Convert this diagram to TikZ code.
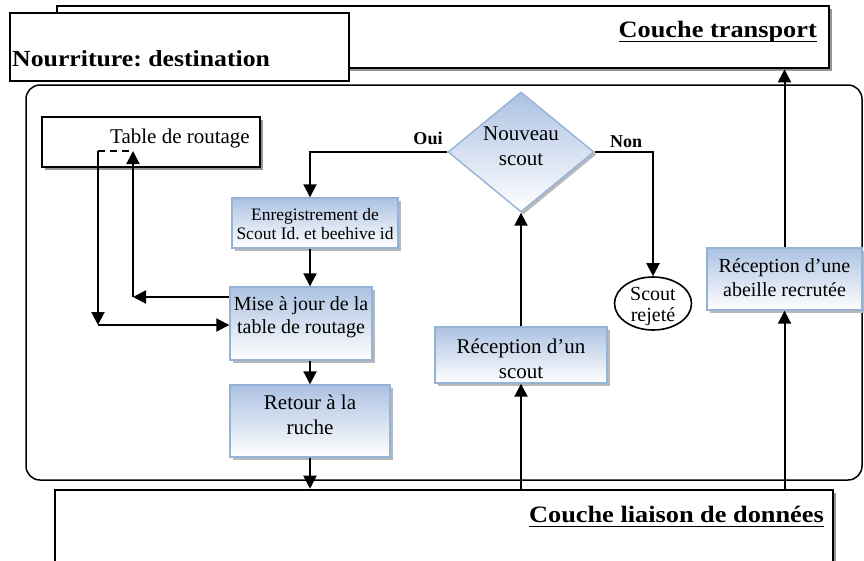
\documentclass[tikz,border=0pt]{standalone}
\usepackage{fontspec}
\setmainfont{Liberation Serif}
\newfontfamily\headfont{Liberation Serif}[FakeStretch=1.12]
\usetikzlibrary{arrows.meta,shapes.geometric,shadows,calc}
\definecolor{boxtop}{RGB}{172,194,226}
\definecolor{boxedge}{RGB}{149,179,215}
\definecolor{shadowgray}{RGB}{150,150,150}
% thick underline for the layer titles
\newcommand\headul[1]{\setbox0\hbox{#1}\rlap{\rule[-5pt]{\wd0}{1.5pt}}\box0}
\frenchspacing

\begin{document}
\begin{tikzpicture}[x=1pt,y=-1pt,
  arr/.style={line width=2pt,-{Triangle[length=13pt,width=13pt]}},
  plain/.style={line width=2pt},
  layerbox/.style={draw,line width=2.6pt,fill=white,inner sep=0pt,
    drop shadow={shadow xshift=2.5pt,shadow yshift=-2.5pt,fill=shadowgray,opacity=1}},
  bluebox/.style={draw=boxedge,line width=1.4pt,top color=boxtop,bottom color=white,inner sep=0pt,
    drop shadow={shadow xshift=2.5pt,shadow yshift=-2.5pt,fill=black!28,opacity=1}},
  txt/.style={inner sep=0pt,align=center},
  headtxt/.style={inner sep=0pt,font=\headfont\bfseries\fontsize{23.5}{28}\selectfont},
  lbl/.style={inner sep=0pt,font=\bfseries\fontsize{18}{20}\selectfont},
]
\useasboundingbox (0,0) rectangle (864,560);

% container of the routing process
\node[draw,line width=1.5pt,rounded corners=14pt,minimum width=836pt,minimum height=395pt,inner sep=0pt]
  (proc) at (444,282.5) {};

% protocol layers
\node[layerbox,minimum width=772pt,minimum height=62pt] (trans) at (443,37) {};
\node[draw,line width=1.2pt,fill=white,minimum width=339pt,minimum height=68pt,inner sep=0pt]
  (nour) at (179.5,47) {};
\node[layerbox,minimum width=778pt,minimum height=85pt] (link) at (444,532.5) {};

\node[headtxt,anchor=base east] (transtxt) at (817,37) {\headul{Couche transport}};
\node[headtxt,anchor=base west,font=\headfont\bfseries\fontsize{23}{28}\selectfont]
  (nourtxt) at (12,66) {Nourriture: destination};
\node[headtxt,anchor=base east] (linktxt) at (824,522) {\headul{Couche liaison de données}};

% routing table
\node[draw,line width=2.2pt,fill=white,minimum width=218pt,minimum height=50pt,inner sep=0pt,
  drop shadow={shadow xshift=2.5pt,shadow yshift=-2.5pt,fill=shadowgray,opacity=1}]
  (table) at (151,142) {};
\node[txt,anchor=base east,font=\fontsize{21}{24}\selectfont] (tabletxt) at (250,143) {Table de routage};

% process steps
\node[bluebox,minimum width=166pt,minimum height=50pt] (enr) at (315,223) {};
\node[txt,font=\fontsize{17.5}{19}\selectfont] (enrtxt) at (315,224) {Enregistrement de\\Scout Id. et beehive id};

\node[bluebox,minimum width=142pt,minimum height=73pt] (mise) at (301,323.5) {};
\node[txt,font=\fontsize{20}{23}\selectfont] (misetxt) at (301,317) {Mise à jour de la\\table de routage};

\node[bluebox,minimum width=160pt,minimum height=72pt] (ret) at (310,421) {};
\node[txt,font=\fontsize{21}{25}\selectfont] (rettxt) at (310,415) {Retour à la\\ruche};

\node[bluebox,diamond,aspect=1.217,minimum width=146pt,minimum height=120pt] (dia) at (521,152) {};
\node[txt,font=\fontsize{21}{25}\selectfont] (diatxt) at (521,146) {Nouveau\\scout};

\node[bluebox,minimum width=172pt,minimum height=56pt] (rsc) at (521,355) {};
\node[txt,font=\fontsize{21}{25}\selectfont] (rsctxt) at (521,359) {Réception d’un\\scout};

\node[draw,ellipse,line width=1.6pt,fill=white,minimum width=77pt,minimum height=53pt,inner sep=0pt]
  (rej) at (653,303.5) {};
\node[txt,font=\fontsize{20}{21}\selectfont] (rejtxt) at (653,307) {Scout\\rejeté};

\node[bluebox,minimum width=155pt,minimum height=62pt] (abe) at (784.5,279) {};
\node[txt,font=\fontsize{20}{24}\selectfont] (abetxt) at (784.5,278) {Réception d’une\\abeille recrutée};

% branch labels
\node[lbl,anchor=base] (oui) at (428,144) {Oui};
\node[lbl,anchor=base] (non) at (626,147) {Non};

% helper points of the connectors
\coordinate (col) at (310,0);
\coordinate (ka) at (133,297);
\coordinate (kb) at (133,151);
\coordinate (kc) at (98,151);
\coordinate (kd) at (98,325);

% main chain
\draw[arr] (dia.west) -| (col |- enr.north);
\draw[arr] (col |- enr.south) -- (col |- mise.north);
\draw[arr] (col |- mise.south) -- (col |- ret.north);
\draw[arr] (col |- ret.south) -- (col |- link.north);

% routing table update loop
\draw[arr] (mise.west |- ka) -- (ka);
\draw[arr] (ka) -- (kb);
\draw[plain,dash pattern=on 7pt off 5pt] (kc) -- (kb);
\draw[arr] (kc) -- (kd);
\draw[arr] (kd) -- (mise.west |- kd);

% scout handling
\draw[arr] (dia.east) -| (rej.north);
\draw[arr] (rsc.north) -- (dia.south);
\draw[arr] (rsc.south |- link.north) -- (rsc.south);

% recruited bee
\draw[arr] (abe.south |- link.north) -- (abe.south);
\draw[arr] (abe.north) -- (abe.north |- trans.south);
\end{tikzpicture}
\end{document}
